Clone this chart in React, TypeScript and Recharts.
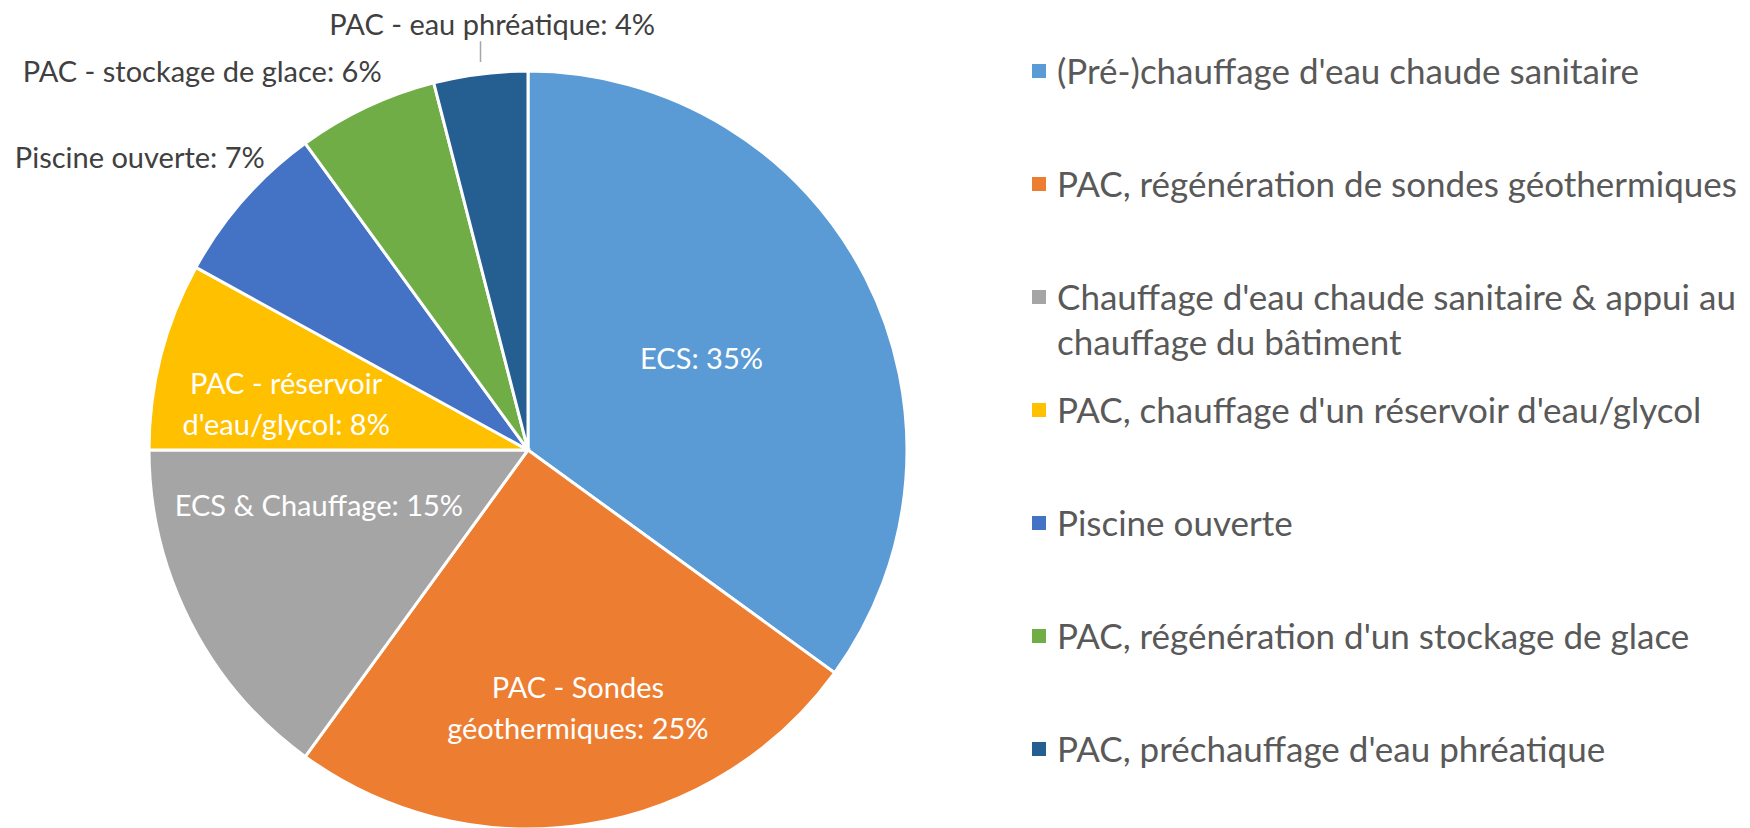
import React from "react";
import { PieChart, Pie, Cell, Legend } from "recharts";

const categories = [
  "ECS",
  "PAC - Sondes géothermiques",
  "ECS & Chauffage",
  "PAC - réservoir d'eau/glycol",
  "Piscine ouverte",
  "PAC - stockage de glace",
  "PAC - eau phréatique",
];
const shares = [35, 25, 15, 8, 7, 6, 4];
const legendLabels = [
  "(Pré-)chauffage d'eau chaude sanitaire",
  "PAC, régénération de sondes géothermiques",
  "Chauffage d'eau chaude sanitaire & appui au chauffage du bâtiment",
  "PAC, chauffage d'un réservoir d'eau/glycol",
  "Piscine ouverte",
  "PAC, régénération d'un stockage de glace",
  "PAC, préchauffage d'eau phréatique",
];
const colors = ["#5B9BD5", "#ED7D31", "#A5A5A5", "#FFC000", "#4472C4", "#70AD47", "#255E91"];

const data = categories.map((name, i) => ({ name, value: shares[i] }));

const FONT = 'Lato, "Open Sans", sans-serif';
const RAD = Math.PI / 180;

// where each data label sits: radius as a fraction of the pie, angle nudge in degrees
const labelPlace = [
  { r: 0.52, dA: 1.3, inside: true, wrap: false },
  { r: 0.69, dA: 2, inside: true, wrap: true },
  { r: 0.57, dA: -12.5, inside: true, wrap: false },
  { r: 0.65, dA: 3.4, inside: true, wrap: true },
  { r: 1.284, dA: 4.3, inside: false, wrap: false },
  { r: 1.321, dA: 15.4, inside: false, wrap: false },
  { r: 1.13, dA: -2.4, inside: false, wrap: false, leader: true },
];

const renderLabel = (props: any) => {
  const { cx, cy, midAngle, outerRadius, index } = props;
  const p = labelPlace[index];
  const a = (midAngle + p.dA) * RAD;
  const x = cx + outerRadius * p.r * Math.cos(a);
  const y = cy - outerRadius * p.r * Math.sin(a);
  const full = `${categories[index]}: ${shares[index]}%`;
  let lines = [full];
  if (p.wrap) {
    const words = full.split(" ");
    lines = [words.slice(0, 3).join(" "), words.slice(3).join(" ")];
  }
  const lh = 41;
  let leader = null;
  if (p.leader) {
    const ex = cx + outerRadius * Math.cos(midAngle * RAD);
    const ey = cy - outerRadius * Math.sin(midAngle * RAD);
    leader = <line x1={ex} y1={ey - 12} x2={ex} y2={y + 18} stroke="#A6A6A6" strokeWidth={1.5} />;
  }
  return (
    <g key={`lbl-${index}`}>
      {leader}
      <text
        x={x}
        y={y - ((lines.length - 1) * lh) / 2}
        textAnchor="middle"
        dominantBaseline="central"
        fill={p.inside ? "#FFFFFF" : "#404040"}
        style={{ fontFamily: FONT, fontSize: 29 }}
      >
        {lines.map((t, k) => (
          <tspan key={k} x={x} dy={k === 0 ? 0 : lh}>
            {t}
          </tspan>
        ))}
      </text>
    </g>
  );
};

const renderLegend = () => (
  <div style={{ fontFamily: FONT }}>
    {legendLabels.map((label, i) => (
      <div key={label} style={{ display: "flex", alignItems: "flex-start", height: 113 }}>
        <div
          style={{
            width: 14,
            height: 14,
            background: colors[i],
            marginTop: 16,
            marginRight: 11,
            flexShrink: 0,
          }}
        />
        <div style={{ color: "#595959", fontSize: 35, lineHeight: "45px", width: 700 }}>{label}</div>
      </div>
    ))}
  </div>
);

export default function App() {
  return (
    <div style={{ position: "absolute", left: 0, top: 0, width: 1750, height: 828, background: "#fff" }}>
      <PieChart width={1750} height={828} margin={{ top: 0, right: 0, bottom: 0, left: 0 }}>
        <Pie
          data={data}
          dataKey="value"
          nameKey="name"
          cx={528}
          cy={450}
          outerRadius={379}
          startAngle={90}
          endAngle={-270}
          stroke="#FFFFFF"
          strokeWidth={3}
          label={renderLabel}
          labelLine={false}
          isAnimationActive={false}
        >
          {data.map((d, i) => (
            <Cell key={d.name} fill={colors[i]} />
          ))}
        </Pie>
        <Legend
          layout="vertical"
          content={renderLegend}
          wrapperStyle={{ left: 1032, top: 48, width: 718 }}
        />
      </PieChart>
    </div>
  );
}
